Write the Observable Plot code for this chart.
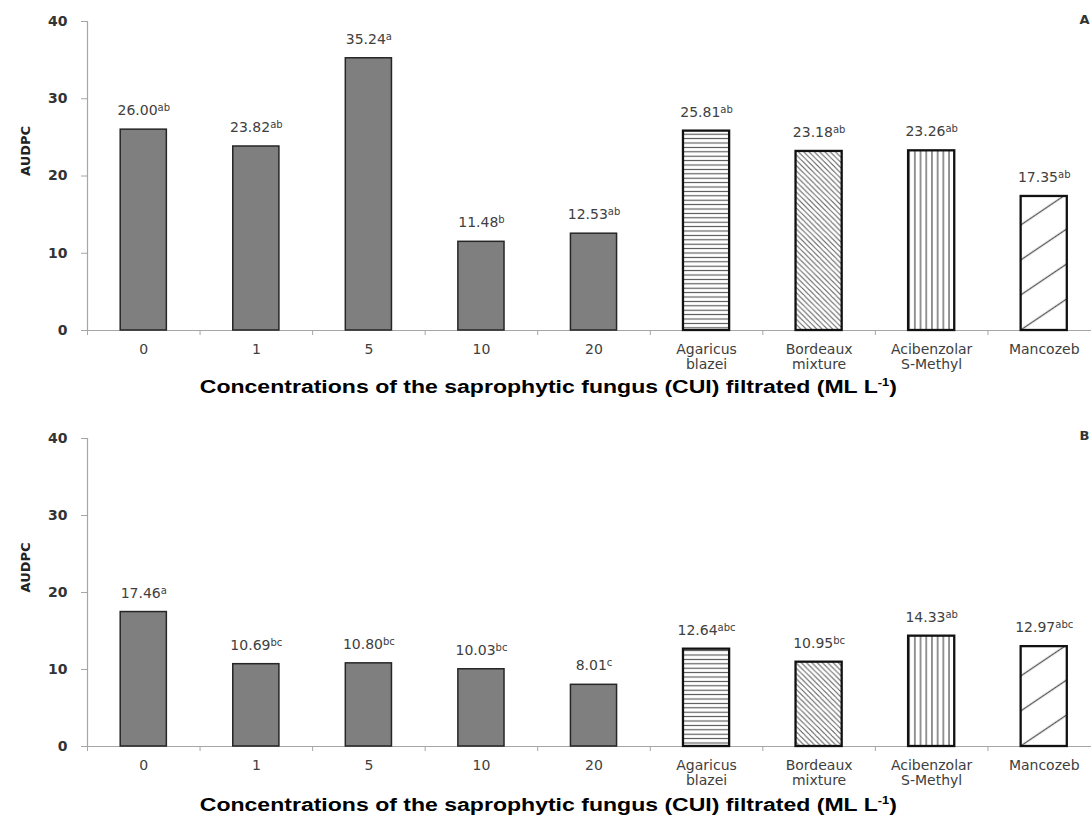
<!DOCTYPE html>
<html><head><meta charset="utf-8">
<script src="https://cdn.jsdelivr.net/npm/d3@7"></script>
<script src="https://cdn.jsdelivr.net/npm/@observablehq/plot@0.6"></script>
<style>
html,body{margin:0;padding:0;background:#fff;overflow:hidden;width:1091px;height:819px;}
.panel{width:1100px;height:auto;}
.panel svg{display:block;}
.xtitle{width:1091px;text-align:center;font-family:"Liberation Sans",Arial,sans-serif;font-weight:bold;font-size:18px;color:#000;white-space:nowrap;}
.xtitle span{display:inline-block;transform:scaleX(1.28);transform-origin:50% 50%;margin-left:6px;}
.xtitle sup{font-size:10px;line-height:0;vertical-align:7px;}
</style></head><body>
<div id="A" class="panel"></div>
<div class="xtitle" style="height:30px;line-height:30px"><span>Concentrations of the saprophytic fungus (CUI) filtrated (ML L<sup>-1</sup>)</span></div>
<div id="B" class="panel"></div>
<div class="xtitle" style="height:27px;line-height:27px"><span>Concentrations of the saprophytic fungus (CUI) filtrated (ML L<sup>-1</sup>)</span></div>
<script>
const categories = ["0", "1", "5", "10", "20", "Agaricus blazei", "Bordeaux mixture", "Acibenzolar S-Methyl", "Mancozeb"];
const tickLabels = ["0", "1", "5", "10", "20", "Agaricus\nblazei", "Bordeaux\nmixture", "Acibenzolar\nS-Methyl", "Mancozeb"];
const valuesA = [26.00, 23.82, 35.24, 11.48, 12.53, 25.81, 23.18, 23.26, 17.35];
const lettersA = ["ab", "ab", "a", "b", "ab", "ab", "ab", "ab", "ab"];
const valuesB = [17.46, 10.69, 10.80, 10.03, 8.01, 12.64, 10.95, 14.33, 12.97];
const lettersB = ["a", "bc", "bc", "bc", "c", "abc", "bc", "ab", "abc"];
const yTicks = [0, 10, 20, 30, 40];
const yLabel = "AUDPC";

// pattern style keyed by treatment (styles kept out of the data arrays)
const barPattern = {
  "Agaricus blazei": "hl",
  "Bordeaux mixture": "bd",
  "Acibenzolar S-Methyl": "vl",
  "Mancozeb": "mz"
};
const HALF = 0.205; // half bar width, as a fraction of the category step
const AXIS = "#a6a6a6";
const TXT = "#404040";

function addDefs(svg, tag, plot) {
  const defs = d3.select(svg).insert("defs", ":first-child");
  // horizontal lines
  const hl = defs.append("pattern").attr("id", "hl" + tag).attr("patternUnits", "userSpaceOnUse").attr("width", 8).attr("height", 4.4);
  hl.append("rect").attr("width", 8).attr("height", 4.4).attr("fill", "#fff");
  hl.append("line").attr("x1", 0).attr("x2", 8).attr("y1", 2.2).attr("y2", 2.2).attr("stroke", "#505050").attr("stroke-width", 1.1);
  // vertical lines
  const vl = defs.append("pattern").attr("id", "vl" + tag).attr("patternUnits", "userSpaceOnUse").attr("width", 5.7).attr("height", 8);
  vl.append("rect").attr("width", 5.7).attr("height", 8).attr("fill", "#fff");
  vl.append("line").attr("x1", 2.85).attr("x2", 2.85).attr("y1", 0).attr("y2", 8).attr("stroke", "#505050").attr("stroke-width", 1.2);
  // backslash diagonal lines with white dashes
  const w = 5.3, h = w * 7;
  const bd = defs.append("pattern").attr("id", "bd" + tag).attr("patternUnits", "userSpaceOnUse").attr("width", w).attr("height", h);
  bd.append("rect").attr("width", w).attr("height", h).attr("fill", "#fff");
  for (let k = -1; k <= 7; k++) {
    bd.append("line").attr("x1", -1).attr("y1", k * w - 1).attr("x2", w + 1).attr("y2", (k + 1) * w + 1)
      .attr("stroke", "#5a5a5a").attr("stroke-width", 1.0);
  }
  bd.append("line").attr("x1", 0).attr("x2", 3.4).attr("y1", h - 1).attr("y2", h - 1).attr("stroke", "#fff").attr("stroke-width", 1.2);
  // wide forward-slash lines, anchored on the Mancozeb bar's lower-left corner
  const i = categories.indexOf("Mancozeb");
  const x0 = plot.scale("x").apply(i + 0.5 - HALF);
  const y0 = plot.scale("y").apply(0);
  const sp = 29.0;
  const mz = defs.append("pattern").attr("id", "mz" + tag).attr("patternUnits", "userSpaceOnUse").attr("width", 20).attr("height", sp)
    .attr("patternTransform", `translate(${x0},${y0}) rotate(-34) translate(0,${-sp / 2})`);
  mz.append("rect").attr("width", 20).attr("height", sp).attr("fill", "#fff");
  mz.append("line").attr("x1", 0).attr("x2", 20).attr("y1", sp / 2).attr("y2", sp / 2).attr("stroke", "#555").attr("stroke-width", 1.3);
}

function panel(values, letters, tag, opts) {
  const data = categories.map((c, i) => ({cat: c, i, value: values[i], letter: letters[i]}));
  const conc = data.filter(d => !(d.cat in barPattern));
  const treat = data.filter(d => d.cat in barPattern);
  const plot = Plot.plot({
    width: 1100,
    height: opts.height,
    marginLeft: 87,
    marginRight: 0,
    marginTop: opts.top,
    marginBottom: opts.bottom,
    x: {domain: [0, categories.length]},
    y: {domain: [0, 40]},
    color: {type: "identity"},
    style: {fontFamily: "'DejaVu Sans', Verdana, sans-serif", fontSize: "13px", background: "#fff", overflow: "visible"},
    marks: [
      Plot.ruleY([0], {stroke: AXIS, strokeWidth: 1.2}),
      Plot.ruleX([0], {stroke: AXIS, strokeWidth: 1.2}),
      Plot.axisY({ticks: yTicks, tickSize: 6, tickPadding: 14, stroke: AXIS, fill: "#333", fontSize: 14, fontWeight: "bold", label: null}),
      Plot.axisX({ticks: d3.range(categories.length + 1), tickSize: 5, tickFormat: () => "", stroke: AXIS, label: null}),
      Plot.text(data, {x: d => d.i + 0.5, y: () => 0, text: d => tickLabels[d.i], lineAnchor: "top", dy: 13, lineHeight: 1.07, fill: TXT, fontSize: 14}),
      Plot.rect(conc, {x1: d => d.i + 0.5 - HALF, x2: d => d.i + 0.5 + HALF, y1: () => 0, y2: "value", fill: "#7f7f7f", stroke: "#262626", strokeWidth: 1.5}),
      Plot.rect(treat, {x1: d => d.i + 0.5 - HALF, x2: d => d.i + 0.5 + HALF, y1: () => 0, y2: "value", fill: d => `url(#${barPattern[d.cat]}${tag})`, stroke: "#111", strokeWidth: 2.3}),
      Plot.text(data, {x: d => d.i + 0.5, y: "value", text: d => d.value.toFixed(2) + "|" + d.letter, dy: -19, fill: TXT, fontSize: 14}),
      Plot.text([tag], {text: d => d, frameAnchor: "top-right", textAnchor: "end", dx: -11, dy: opts.tagDy, fontWeight: "bold", fontSize: 13, fill: "#333"}),
      Plot.text([yLabel], {text: d => d, frameAnchor: "left", rotate: -90, dx: -62, fontWeight: "bold", fontSize: 13, fill: "#222"})
    ]
  });
  addDefs(plot, tag, plot);
  d3.select(plot).selectAll("text").each(function () {
    if (this.childElementCount > 0 || !this.textContent.includes("|")) return;
    const [num, sup] = this.textContent.split("|");
    this.textContent = "";
    d3.select(this).append("tspan").text(num);
    d3.select(this).append("tspan").attr("font-size", 10).attr("dy", "-0.4em").text(sup);
  });
  return plot;
}

document.getElementById("A").append(panel(valuesA, lettersA, "A", {height: 372, top: 21, bottom: 42, tagDy: -7}));
document.getElementById("B").append(panel(valuesB, lettersB, "B", {height: 390, top: 36, bottom: 46, tagDy: -8}));
</script>
</body></html>
